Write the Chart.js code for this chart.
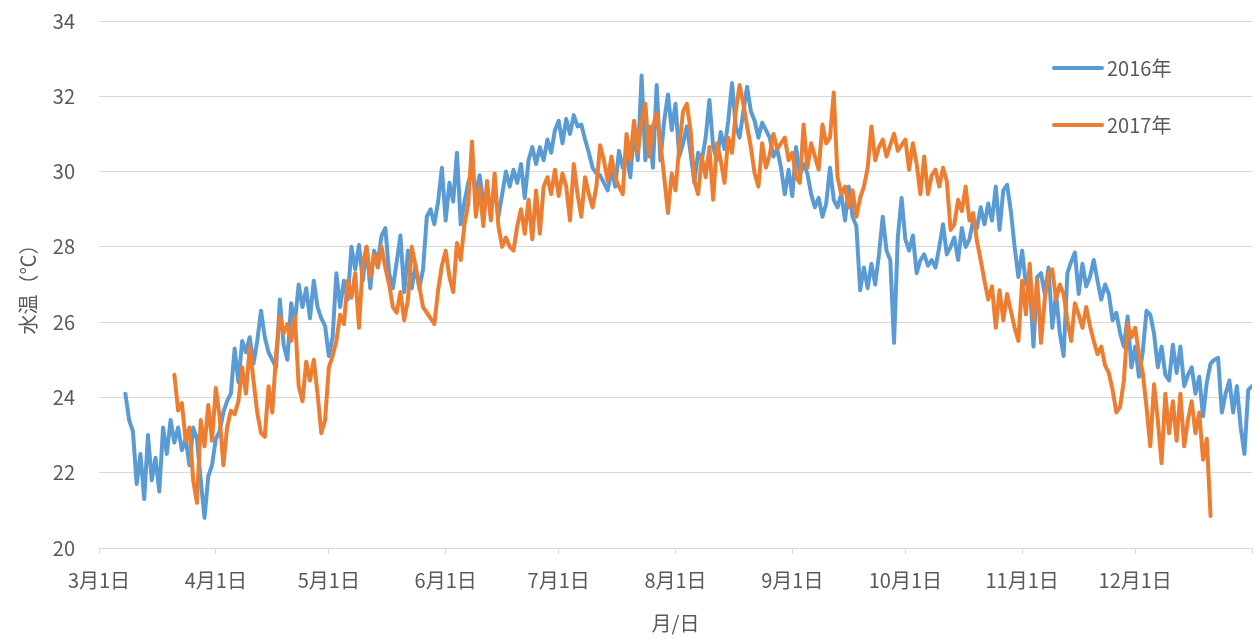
<!DOCTYPE html>
<html lang="ja">
<head>
<meta charset="utf-8">
<title>水温 2016年 / 2017年</title>
<script src="https://cdn.jsdelivr.net/npm/chart.js@4/dist/chart.umd.min.js"></script>
<style>
    html, body { margin: 0; padding: 0; background: #fff; }
    #wrap { position: relative; width: 1255px; height: 639px; }
</style>
</head>
<body>
<div id="wrap"><canvas id="wt-chart"></canvas></div>
<script>
// 3月1日からの経過日数 (x) と水温 (℃)
const START_2016 = 7;
const temps2016 = [
    24.1, 23.4, 23.1, 21.7, 22.5, 21.3, 23.0, 21.8, 22.4, 21.5,
    23.2, 22.5, 23.4, 22.8, 23.2, 22.6, 22.9, 22.2, 23.2, 22.9,
    21.8, 20.8, 21.9, 22.2, 22.9, 23.1, 23.6, 23.9, 24.1, 25.3,
    24.4, 25.5, 25.2, 25.6, 24.9, 25.5, 26.3, 25.6, 25.2, 25.0,
    24.8, 26.6, 25.4, 25.0, 26.5, 26.0, 27.0, 26.4, 26.9, 26.1,
    27.1, 26.4, 26.1, 25.9, 25.1, 25.6, 27.3, 26.4, 27.1, 26.6,
    28.0, 27.4, 28.05, 27.1, 28.0, 26.9, 27.9, 27.6, 28.3, 28.5,
    27.3, 26.9, 27.6, 28.3, 26.8, 27.9, 26.9, 27.5, 26.9, 27.4,
    28.8, 29.0, 28.6, 29.2, 30.1, 28.7, 29.7, 29.2, 30.5, 28.6,
    29.2, 29.7, 30.05, 29.4, 29.9, 29.2, 29.3, 29.15, 29.5, 28.8,
    29.4, 30.0, 29.6, 30.05, 29.7, 30.2, 29.3, 30.3, 30.65, 30.2,
    30.65, 30.3, 30.85, 30.5, 31.1, 31.35, 30.75, 31.4, 31.0, 31.5,
    31.2, 31.25, 30.85, 30.5, 30.1, 29.95, 29.9, 29.7, 29.5, 30.05,
    29.6, 30.55, 30.1, 30.4, 29.85, 31.1, 30.3, 32.55, 30.3, 31.2,
    30.1, 32.3, 30.3, 31.35, 32.05, 31.1, 31.8, 30.4, 30.75, 31.2,
    30.5, 29.7, 30.5, 30.3, 30.9, 31.9, 30.65, 30.3, 31.05, 30.6,
    31.35, 32.35, 31.2, 30.9, 31.6, 32.25, 31.6, 31.35, 30.9, 31.3,
    31.1, 30.9, 30.4, 30.6, 30.1, 29.4, 30.05, 29.35, 30.65, 29.9,
    30.2, 29.95, 29.4, 29.05, 29.3, 28.8, 29.15, 30.1, 29.25, 29.05,
    29.4, 28.7, 29.6, 28.8, 28.55, 26.85, 27.45, 26.9, 27.55, 27.0,
    27.8, 28.8, 27.9, 27.65, 25.45, 28.25, 29.3, 28.2, 27.9, 28.3,
    27.3, 27.65, 27.8, 27.5, 27.65, 27.45, 28.0, 28.6, 27.8, 28.0,
    28.25, 27.65, 28.5, 28.0, 28.2, 28.7, 28.5, 29.05, 28.6, 29.15,
    28.7, 29.6, 28.45, 29.5, 29.65, 28.95, 28.0, 27.2, 27.9, 27.0,
    27.1, 25.35, 27.2, 27.3, 26.75, 27.45, 25.85, 26.75, 25.7, 25.1,
    27.3, 27.6, 27.85, 26.75, 27.55, 26.95, 27.2, 27.65, 27.1, 26.6,
    27.0, 26.75, 26.05, 26.25, 25.7, 25.35, 26.15, 24.8, 25.35, 24.55,
    25.2, 26.3, 26.2, 25.7, 24.8, 25.35, 24.6, 24.45, 25.4, 24.65,
    25.35, 24.3, 24.6, 24.8, 24.1, 24.55, 23.5, 24.4, 24.9, 25.0,
    25.05, 23.6, 24.1, 24.45, 23.6, 24.3, 23.2, 22.5, 24.2, 24.3,
];

const START_2017 = 20;
const temps2017 = [
    24.6, 23.65, 23.85, 22.85, 23.2, 21.8, 21.2, 23.4, 22.7, 23.8,
    22.85, 24.25, 23.5, 22.2, 23.2, 23.65, 23.55, 23.9, 24.8, 24.1,
    25.35, 24.45, 23.6, 23.05, 22.95, 24.3, 23.6, 25.15, 26.15, 25.7,
    25.95, 25.5, 26.15, 24.3, 23.9, 24.95, 24.45, 25.0, 24.1, 23.05,
    23.4, 24.8, 25.1, 25.5, 26.2, 25.95, 27.1, 26.65, 27.3, 25.85,
    27.55, 28.0, 27.2, 27.8, 27.45, 28.0, 27.45, 27.0, 26.4, 26.25,
    26.8, 26.05, 26.6, 28.0, 27.5, 26.95, 26.4, 26.25, 26.1, 25.95,
    26.85, 27.5, 27.9, 27.2, 26.8, 28.1, 27.65, 28.6, 29.15, 30.8,
    28.8, 29.6, 28.55, 29.75, 28.7, 29.95, 28.55, 28.0, 28.25, 28.0,
    27.9, 28.55, 29.0, 28.35, 29.25, 28.2, 29.5, 28.35, 29.6, 29.85,
    29.4, 30.05, 29.35, 29.95, 29.6, 28.7, 30.2, 29.4, 28.8, 29.85,
    29.4, 29.05, 29.6, 30.7, 30.3, 29.75, 30.4, 29.85, 29.6, 29.4,
    31.0, 30.3, 31.35, 30.5, 31.35, 31.8, 30.4, 31.2, 31.55, 30.75,
    29.85, 28.9, 29.95, 29.5, 30.65, 31.6, 31.8, 31.1, 29.75, 29.4,
    30.4, 29.85, 30.65, 29.25, 30.75, 30.3, 29.7, 30.9, 30.5, 31.6,
    32.3, 31.8, 31.2, 30.65, 29.95, 29.6, 30.75, 30.1, 30.45, 31.0,
    30.6, 30.75, 30.9, 30.3, 30.5, 29.85, 29.7, 31.25, 30.1, 30.75,
    30.4, 30.05, 31.25, 30.75, 30.9, 32.1, 29.85, 29.4, 29.6, 29.05,
    29.5, 28.8, 29.3, 29.6, 30.1, 31.2, 30.3, 30.65, 30.85, 30.4,
    30.7, 31.0, 30.55, 30.7, 30.85, 30.05, 30.75, 30.2, 29.4, 30.4,
    29.4, 29.9, 30.05, 29.6, 30.1, 29.75, 28.45, 28.6, 29.25, 28.95,
    29.6, 28.7, 28.9, 28.15, 27.65, 27.1, 26.6, 26.95, 25.85, 26.85,
    26.05, 26.75, 26.3, 25.85, 25.5, 27.1, 26.2, 27.55, 26.05, 27.1,
    25.45, 26.6, 27.3, 27.4, 26.6, 27.0, 26.75, 26.05, 25.5, 26.5,
    26.2, 25.85, 26.4, 25.9, 25.5, 25.15, 25.35, 24.85, 24.65, 24.2,
    23.6, 23.75, 24.45, 25.95, 25.6, 25.85, 25.15, 24.65, 23.75, 22.7,
    24.35, 23.4, 22.25, 24.1, 23.05, 23.9, 22.85, 24.1, 22.7, 23.4,
    23.9, 23.05, 23.6, 22.35, 22.9, 20.85,
];

// 目盛り: 各月1日の経過日数とラベル
const monthDays   = [0, 31, 61, 92, 122, 153, 184, 214, 245, 275, 306];
const monthLabels = ['3月1日', '4月1日', '5月1日', '6月1日', '7月1日', '8月1日',
                     '9月1日', '10月1日', '11月1日', '12月1日', ''];

const BLUE   = '#5B9BD5';
const ORANGE = '#ED7D31';
const GRID   = '#d9d9d9';
const TEXT   = '#595959';
const FONT   = '"Noto Sans CJK JP", "Noto Sans", sans-serif';

const toPoints = (start, arr) => arr.map((t, i) => ({ x: start + i, y: t }));

// 凡例をプロット右上に縦並びで描く
const insideLegend = {
    id: 'insideLegend',
    afterDraw(chart) {
        const { ctx } = chart;
        const x0 = 1054, x1 = 1102, rows = [68, 125];
        ctx.save();
        ctx.font = '20px ' + FONT;
        ctx.fillStyle = TEXT;
        ctx.textBaseline = 'middle';
        chart.data.datasets.forEach((ds, i) => {
            const y = rows[i];
            ctx.strokeStyle = ds.borderColor;
            ctx.lineWidth = 4;
            ctx.lineCap = 'round';
            ctx.beginPath();
            ctx.moveTo(x0, y);
            ctx.lineTo(x1, y);
            ctx.stroke();
            ctx.fillText(ds.label, x1 + 5, y);
        });
        ctx.restore();
    },
};

const canvas = document.getElementById('wt-chart');

new Chart(canvas.getContext('2d'), {
    type: 'line',
    data: {
        datasets: [
            {
                label: '2016年',
                data: toPoints(START_2016, temps2016),
                borderColor: BLUE,
                backgroundColor: BLUE,
                borderWidth: 4,
                pointRadius: 0,
                tension: 0,
                borderJoinStyle: 'round',
                borderCapStyle: 'round',
                order: 2,
            },
            {
                label: '2017年',
                data: toPoints(START_2017, temps2017),
                borderColor: ORANGE,
                backgroundColor: ORANGE,
                borderWidth: 4,
                pointRadius: 0,
                tension: 0,
                borderJoinStyle: 'round',
                borderCapStyle: 'round',
                order: 1,
            },
        ],
    },
    options: {
        responsive: true,
        maintainAspectRatio: false,
        animation: false,
        layout: { padding: { top: 21, right: 3, left: 0, bottom: 0 } },
        plugins: {
            legend: { display: false },
            tooltip: { enabled: false },
        },
        scales: {
            x: {
                type: 'linear',
                min: 0,
                max: 306,
                afterBuildTicks: (scale) => {
                    scale.ticks = monthDays.map((v) => ({ value: v }));
                },
                afterFit: (scale) => {
                    scale.height = 91;
                    scale.paddingLeft = 0;
                    scale.paddingRight = 0;
                },
                grid: {
                    drawOnChartArea: false,
                    drawTicks: true,
                    tickLength: 6,
                    color: GRID,
                },
                border: { display: true, color: GRID, width: 1 },
                ticks: {
                    autoSkip: false,
                    maxRotation: 0,
                    padding: 14,
                    color: TEXT,
                    font: { family: FONT, size: 20 },
                    callback: (v) => {
                        const i = monthDays.indexOf(v);
                        return i >= 0 ? monthLabels[i] : '';
                    },
                },
                title: {
                    display: true,
                    text: '月/日',
                    color: TEXT,
                    font: { family: FONT, size: 20 },
                    padding: { top: 0, bottom: 4 },
                },
            },
            y: {
                min: 20,
                max: 34,
                afterFit: (scale) => {
                    scale.width = 99;
                    scale.paddingTop = 0;
                    scale.paddingBottom = 0;
                },
                grid: { color: GRID, lineWidth: 1, drawTicks: false },
                border: { display: false },
                ticks: {
                    stepSize: 2,
                    padding: 24,
                    color: TEXT,
                    font: { family: FONT, size: 20 },
                },
                title: {
                    display: true,
                    text: '水温（℃）',
                    color: TEXT,
                    font: { family: FONT, size: 20 },
                    padding: { top: 16, bottom: 0 },
                },
            },
        },
    },
    plugins: [insideLegend],
});
</script>
</body>
</html>
